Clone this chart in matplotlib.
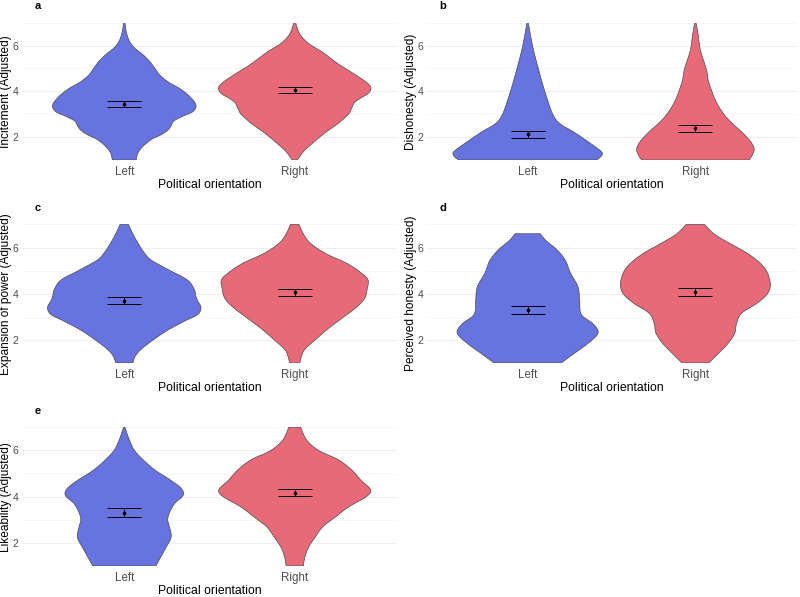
import numpy as np
import matplotlib
matplotlib.use('Agg')
import matplotlib.pyplot as plt

# ---- data: violin outlines (y, half-width in category units) ----
groups = ['Left', 'Right']

a_left_y = [7.0, 6.6, 6.2, 5.9, 5.6, 5.3, 5.0, 4.7, 4.4, 4.1, 3.8, 3.5, 3.3, 3.1, 2.9, 2.7, 2.5, 2.3, 2.1, 1.9, 1.6, 1.3, 1.0]
a_left_w = [0.004, 0.012, 0.03, 0.06, 0.11, 0.15, 0.18, 0.21, 0.26, 0.33, 0.38, 0.415, 0.42, 0.40, 0.34, 0.29, 0.275, 0.255, 0.215, 0.16, 0.11, 0.08, 0.07]
a_right_y = [7.0, 6.5, 6.1, 5.7, 5.2, 4.8, 4.4, 4.15, 3.9, 3.7, 3.5, 3.2, 3.0, 2.6, 2.2, 1.8, 1.4, 1.0]
a_right_w = [0.005, 0.03, 0.08, 0.165, 0.255, 0.34, 0.42, 0.447, 0.43, 0.385, 0.35, 0.33, 0.315, 0.255, 0.18, 0.115, 0.055, 0.015]

b_left_y = [7.0, 6.5, 5.8, 5.1, 4.35, 3.6, 3.0, 2.6, 2.2, 1.75, 1.4, 1.25, 1.1, 1.0]
b_left_w = [0.004, 0.016, 0.035, 0.06, 0.088, 0.12, 0.15, 0.19, 0.28, 0.37, 0.435, 0.445, 0.43, 0.41]
b_right_y = [7.0, 6.5, 5.8, 5.1, 4.8, 4.4, 3.6, 3.0, 2.6, 2.2, 1.8, 1.5, 1.3, 1.1, 1.0]
b_right_w = [0.004, 0.016, 0.03, 0.06, 0.07, 0.08, 0.12, 0.17, 0.22, 0.28, 0.33, 0.35, 0.345, 0.33, 0.32]

c_left_y = [7.0, 6.6, 6.2, 5.75, 5.45, 5.0, 4.6, 4.2, 3.9, 3.7, 3.4, 3.1, 2.8, 2.4, 2.0, 1.6, 1.3, 1.0]
c_left_w = [0.025, 0.05, 0.08, 0.12, 0.16, 0.27, 0.37, 0.41, 0.42, 0.43, 0.45, 0.43, 0.35, 0.25, 0.17, 0.10, 0.065, 0.05]
c_right_y = [7.0, 6.6, 6.2, 5.75, 5.3, 4.9, 4.6, 4.2, 3.8, 3.4, 2.9, 2.45, 2.0, 1.6, 1.3, 1.0]
c_right_w = [0.025, 0.05, 0.09, 0.18, 0.31, 0.39, 0.43, 0.425, 0.41, 0.36, 0.27, 0.19, 0.12, 0.06, 0.04, 0.03]

d_left_y = [6.6, 6.3, 5.9, 5.45, 4.9, 4.3, 3.7, 3.1, 2.7, 2.3, 1.85, 1.4, 1.0]
d_left_w = [0.075, 0.11, 0.175, 0.225, 0.255, 0.30, 0.31, 0.32, 0.39, 0.42, 0.36, 0.275, 0.20]
d_right_y = [7.0, 6.6, 6.2, 5.75, 5.3, 4.9, 4.4, 4.0, 3.6, 3.15, 2.7, 2.3, 1.85, 1.4, 1.0]
d_right_w = [0.055, 0.11, 0.20, 0.31, 0.39, 0.43, 0.447, 0.43, 0.37, 0.275, 0.245, 0.235, 0.195, 0.135, 0.08]

e_left_y = [7.0, 6.45, 6.0, 5.6, 5.15, 4.7, 4.35, 4.05, 3.7, 3.3, 3.0, 2.7, 2.25, 1.8, 1.4, 1.0]
e_left_w = [0.004, 0.03, 0.06, 0.11, 0.18, 0.275, 0.335, 0.345, 0.295, 0.265, 0.255, 0.265, 0.275, 0.245, 0.215, 0.185]
e_right_y = [7.0, 6.45, 6.0, 5.6, 5.15, 4.7, 4.3, 4.0, 3.55, 3.1, 2.7, 2.25, 1.8, 1.4, 1.0]
e_right_w = [0.035, 0.07, 0.14, 0.255, 0.335, 0.39, 0.445, 0.42, 0.315, 0.235, 0.165, 0.12, 0.08, 0.06, 0.05]

# mean and CI (lower, upper) per group
a_mean = [3.43, 4.07]; a_lo = [3.32, 3.94]; a_hi = [3.58, 4.20]
b_mean = [2.12, 2.38]; b_lo = [1.96, 2.24]; b_hi = [2.27, 2.53]
c_mean = [3.70, 4.07]; c_lo = [3.56, 3.92]; c_hi = [3.85, 4.21]
d_mean = [3.30, 4.08]; d_lo = [3.11, 3.91]; d_hi = [3.46, 4.24]
e_mean = [3.30, 4.17]; e_lo = [3.14, 4.01]; e_hi = [3.49, 4.33]

ylabels = ['Incitement (Adjusted)', 'Dishonesty (Adjusted)', 'Expansion of power (Adjusted)',
           'Perceived honesty (Adjusted)', 'Likeability (Adjusted)']
letters = ['a', 'b', 'c', 'd', 'e']

colors = ['#6773DE', '#E86A78']

panels = [
    ((a_left_y, a_left_w), (a_right_y, a_right_w), a_mean, a_lo, a_hi),
    ((b_left_y, b_left_w), (b_right_y, b_right_w), b_mean, b_lo, b_hi),
    ((c_left_y, c_left_w), (c_right_y, c_right_w), c_mean, c_lo, c_hi),
    ((d_left_y, d_left_w), (d_right_y, d_right_w), d_mean, d_lo, d_hi),
    ((e_left_y, e_left_w), (e_right_y, e_right_w), e_mean, e_lo, e_hi),
]


def smooth_outline(y, w, n=12):
    # Catmull-Rom curve through the outline points, only for drawing
    p = np.column_stack([y, w])
    p = np.vstack([p[0], p, p[-1]])
    out = []
    t = np.linspace(0, 1, n, endpoint=False)[:, None]
    for k in range(1, len(p) - 2):
        p0, p1, p2, p3 = p[k - 1], p[k], p[k + 1], p[k + 2]
        seg = 0.5 * ((2 * p1) + (-p0 + p2) * t + (2 * p0 - 5 * p1 + 4 * p2 - p3) * t ** 2
                     + (-p0 + 3 * p1 - 3 * p2 + p3) * t ** 3)
        out.append(seg)
    out.append(p[-2][None, :])
    out = np.vstack(out)
    return out[:, 0], np.clip(out[:, 1], 0, None)


# axes rectangles in pixels: (x0, x1, ytop, ybottom)
W, H = 800, 597
boxes = [(22, 397, 22.7, 160), (427, 796, 22.7, 160),
         (22, 397, 224.5, 363), (427, 796, 224.5, 363),
         (22, 397, 427.3, 566)]

plt.rcParams['font.family'] = 'Liberation Sans'
fig = plt.figure(figsize=(8, 5.97), dpi=100)

for i, (lv, rv, mean, lo, hi) in enumerate(panels):
    x0, x1, yt, yb = boxes[i]
    ax = fig.add_axes([x0 / W, 1 - yb / H, (x1 - x0) / W, (yb - yt) / H])
    for j, (vy, vw) in enumerate([lv, rv]):
        sy, sw = smooth_outline(vy, vw)
        xs_poly = np.concatenate([j + 1 - sw, (j + 1 + sw)[::-1]])
        ys_poly = np.concatenate([sy, sy[::-1]])
        ax.fill(xs_poly, ys_poly, facecolor=colors[j], edgecolor='#4A4A4A',
                linewidth=0.5, zorder=2)
    xs = np.arange(1, 3)
    ax.errorbar(xs, mean, yerr=[np.array(mean) - np.array(lo), np.array(hi) - np.array(mean)],
                fmt='o', color='black', ms=1.6, elinewidth=0.6, capsize=12.2, capthick=0.7, zorder=4)
    ax.set_xlim(0.4, 2.6)
    ax.set_ylim(1, 7)
    ax.set_yticks([2, 4, 6])
    ax.set_yticks([1, 3, 5, 7], minor=True)
    ax.set_xticks(xs)
    ax.set_xticklabels(groups)
    ax.grid(axis='y', which='major', color='#EBEBEB', lw=0.6, zorder=0)
    ax.grid(axis='y', which='minor', color='#F2F2F2', lw=0.4, zorder=0)
    ax.grid(axis='x', visible=False)
    for s in ax.spines.values():
        s.set_visible(False)
    ax.tick_params(which='both', length=0)
    ax.tick_params(axis='y', labelsize=7.5, labelcolor='#4D4D4D', pad=2.5)
    ax.tick_params(axis='x', labelsize=8.3, labelcolor='#4D4D4D', pad=4.5)
    ax.set_xlabel('Political orientation', fontsize=8.8, labelpad=0.8)
    ax.set_ylabel(ylabels[i], fontsize=8.6, va='center')
    ax.yaxis.set_label_coords(-15.5 / (x1 - x0), 0.5)
    fig.text((x0 + 16) / W, 1 - (yt - 16.5) / H, letters[i], fontsize=8, fontweight='bold',
             ha='center', va='center')

fig.savefig('out.png', dpi=100)
